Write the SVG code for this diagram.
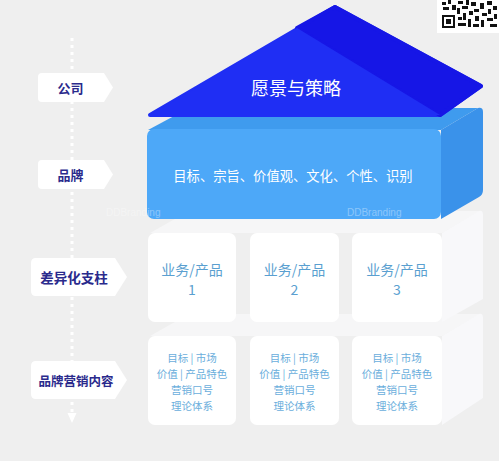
<svg xmlns="http://www.w3.org/2000/svg" width="499" height="461" viewBox="0 0 499 461">
<style>
  .lbl{fill:#ffffff}
  .lt{font-family:"Noto Sans CJK SC","Noto Sans",sans-serif;font-weight:bold;fill:#2a2a8c;text-anchor:middle;dominant-baseline:central}
  .wt{font-family:"Noto Sans CJK SC","Noto Sans",sans-serif;fill:#ffffff;text-anchor:middle;dominant-baseline:central}
  .pt{font-family:"Noto Sans CJK SC","Noto Sans",sans-serif;fill:#5a9fd0;text-anchor:middle;dominant-baseline:central}
  .ct{font-family:"Noto Sans CJK SC","Noto Sans",sans-serif;fill:#6aaedc;text-anchor:middle;dominant-baseline:central;font-size:10.5px}
  .box{fill:#ffffff}
  .slabtop{fill:#f6f6f7}
  .slabside{fill:#f8f8fa}
  .wm{font-family:"Liberation Sans",sans-serif;font-size:10px;fill:#ffffff;opacity:0.35}
</style>
<rect width="499" height="461" fill="#efefef"/>

<!-- QR code -->
<g id="qr">
  <rect x="437" y="0" width="62" height="33" fill="#ffffff"/>
  <rect x="442" y="15" width="13" height="13" fill="#111"/>
  <rect x="444" y="17" width="9" height="9" fill="#fff"/>
  <rect x="446" y="19" width="5" height="5" fill="#111"/>
  <rect x="442" y="2" width="4" height="3" fill="#111"/>
  <rect x="448" y="0" width="3" height="4" fill="#111"/>
  <rect x="443" y="7" width="6" height="3" fill="#111"/>
  <rect x="452" y="5" width="4" height="5" fill="#111"/>
  <rect x="458" y="1" width="5" height="3" fill="#111"/>
  <rect x="457" y="8" width="3" height="6" fill="#111"/>
  <rect x="462" y="6" width="6" height="3" fill="#111"/>
  <rect x="466" y="0" width="3" height="5" fill="#111"/>
  <rect x="471" y="2" width="5" height="4" fill="#111"/>
  <rect x="458" y="17" width="4" height="3" fill="#111"/>
  <rect x="463" y="13" width="3" height="7" fill="#111"/>
  <rect x="458" y="23" width="8" height="3" fill="#111"/>
  <rect x="469" y="11" width="4" height="4" fill="#111"/>
  <rect x="468" y="19" width="3" height="8" fill="#111"/>
  <rect x="474" y="9" width="5" height="3" fill="#111"/>
  <rect x="475" y="16" width="4" height="5" fill="#111"/>
  <rect x="473" y="24" width="6" height="3" fill="#111"/>
  <rect x="480" y="3" width="4" height="6" fill="#111"/>
  <rect x="482" y="13" width="5" height="3" fill="#111"/>
  <rect x="481" y="20" width="3" height="7" fill="#111"/>
  <rect x="487" y="1" width="5" height="4" fill="#111"/>
  <rect x="488" y="9" width="3" height="5" fill="#111"/>
  <rect x="487" y="18" width="6" height="3" fill="#111"/>
  <rect x="493" y="6" width="4" height="4" fill="#111"/>
  <rect x="494" y="14" width="3" height="5" fill="#111"/>
  <rect x="490" y="24" width="7" height="3" fill="#111"/>
</g>

<!-- connector: dotted vertical arrow -->
<g id="connectors">
  <line x1="72" y1="38" x2="72" y2="412" stroke="#ffffff" stroke-width="3" stroke-dasharray="3 4"/>
  <polygon points="67.5,413 76.5,413 72,423" fill="#ffffff"/>
</g>

<!-- left labels -->
<g id="label-company">
  <path class="lbl" d="M42,73 H104 L113,87.5 L104,102 H42 Q38,102 38,98 V77 Q38,73 42,73 Z"/>
  <text class="lt" x="70.5" y="87.5" font-size="13">公司</text>
</g>
<g id="label-brand">
  <path class="lbl" d="M42,160 H104 L113,174.5 L104,189 H42 Q38,189 38,185 V164 Q38,160 42,160 Z"/>
  <text class="lt" x="70.5" y="174.5" font-size="13">品牌</text>
</g>
<g id="label-pillars">
  <path class="lbl" d="M36,258 H115 L127,277 L115,296 H36 Q31,296 31,291 V263 Q31,258 36,258 Z"/>
  <text class="lt" x="74" y="277" font-size="13.5">差异化支柱</text>
</g>
<g id="label-content">
  <path class="lbl" d="M36,361 H115 L127,380 L115,399 H36 Q31,399 31,394 V366 Q31,361 36,361 Z"/>
  <text class="lt" x="76" y="380" font-size="12.5">品牌营销内容</text>
</g>

<!-- row 2: content -->
<g id="content-slab">
  <polygon class="slabtop" points="150,336 189,314 480,314 442,336"/>
  <path class="slabside" d="M442,336 L479,314 Q483,313 483,318 V398 L442,425 Z"/>
</g>
<g id="content-1">
  <rect class="box" x="148" y="336" width="88" height="89" rx="7"/>
  <text class="ct" x="192" y="357">目标 | 市场</text>
  <text class="ct" x="192" y="373">价值 | 产品特色</text>
  <text class="ct" x="192" y="389">营销口号</text>
  <text class="ct" x="192" y="405">理论体系</text>
</g>
<g id="content-2">
  <rect class="box" x="250" y="336" width="89" height="89" rx="7"/>
  <text class="ct" x="294.5" y="357">目标 | 市场</text>
  <text class="ct" x="294.5" y="373">价值 | 产品特色</text>
  <text class="ct" x="294.5" y="389">营销口号</text>
  <text class="ct" x="294.5" y="405">理论体系</text>
</g>
<g id="content-3">
  <rect class="box" x="352" y="336" width="90" height="89" rx="7"/>
  <text class="ct" x="397" y="357">目标 | 市场</text>
  <text class="ct" x="397" y="373">价值 | 产品特色</text>
  <text class="ct" x="397" y="389">营销口号</text>
  <text class="ct" x="397" y="405">理论体系</text>
</g>

<!-- row 1: pillars -->
<g id="pillar-slab">
  <polygon class="slabtop" points="150,233 189,211 480,211 442,233"/>
  <path class="slabside" d="M442,233 L479,211 Q483,210 483,215 V299 L442,322 Z"/>
</g>
<g id="pillar-1">
  <rect class="box" x="148" y="233" width="88" height="89" rx="7"/>
  <text class="pt" x="192" y="269" font-size="14">业务/产品</text>
  <text class="pt" x="192" y="289" font-size="14">1</text>
</g>
<g id="pillar-2">
  <rect class="box" x="250" y="233" width="89" height="89" rx="7"/>
  <text class="pt" x="294.5" y="269" font-size="14">业务/产品</text>
  <text class="pt" x="294.5" y="289" font-size="14">2</text>
</g>
<g id="pillar-3">
  <rect class="box" x="352" y="233" width="90" height="89" rx="7"/>
  <text class="pt" x="397" y="269" font-size="14">业务/产品</text>
  <text class="pt" x="397" y="289" font-size="14">3</text>
</g>

<!-- brand block -->
<g id="brand">
  <polygon points="148,130 189,108 478,108 441,130" fill="#3f9bee"/>
  <path d="M441,130 L478,108 Q483,107 483,112 V190 Q483,195 479,197 L441,219 Z" fill="#3a92ea"/>
  <rect x="147" y="129" width="294" height="90" rx="7" fill="#4da8f8"/>
  <text class="wt" x="293" y="175" font-size="13.3">目标、宗旨、价值观、文化、个性、识别</text>
  <text class="wm" x="347" y="216">DDBranding</text>
  <text class="wm" x="106" y="216">DDBranding</text>
</g>

<!-- roof -->
<g id="vision">
  <polygon points="150,115 335,7 481,86 440,115" fill="#1f2ef4" stroke="#1f2ef4" stroke-width="4" stroke-linejoin="round"/>
  <polygon points="297,28 335,7 481,86 440,115" fill="#1616e6" stroke="#1616e6" stroke-width="4" stroke-linejoin="round"/>
  <polygon points="150,115 297,28 440,115" fill="#1f2ef4"/>
  <text class="wt" x="296" y="87" font-size="18">愿景与策略</text>
</g>
</svg>
